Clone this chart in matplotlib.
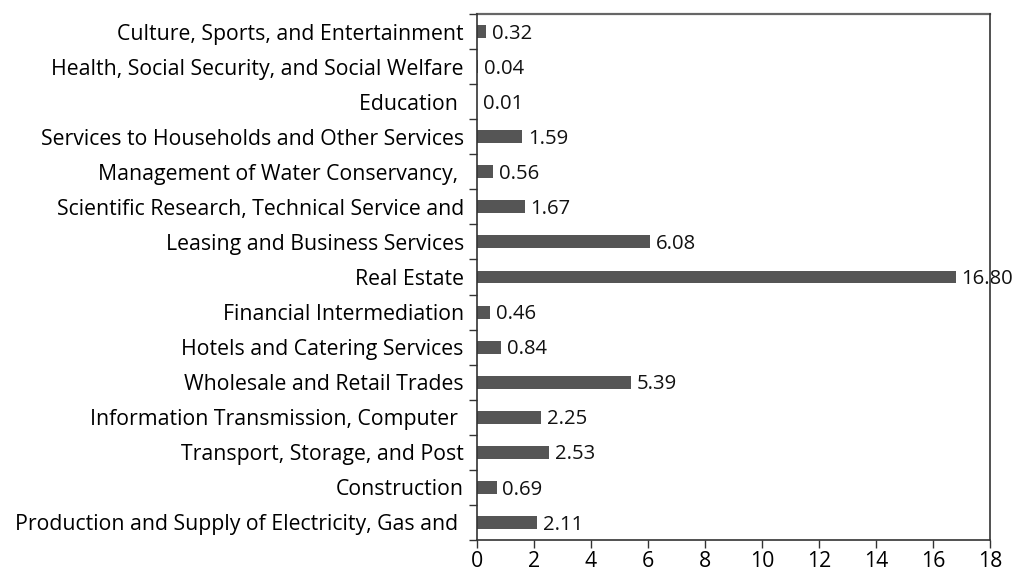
import matplotlib
matplotlib.use("Agg")
from matplotlib import pyplot as plt
import numpy as np

matplotlib.rcParams.update({
    'font.family': ['Open Sans', 'DejaVu Sans'],
    'font.size': 15.3,
})

categories = [
    'Production and Supply of Electricity, Gas and ',
    'Construction',
    'Transport, Storage, and Post',
    'Information Transmission, Computer ',
    'Wholesale and Retail Trades',
    'Hotels and Catering Services',
    'Financial Intermediation',
    'Real Estate',
    'Leasing and Business Services',
    'Scientific Research, Technical Service and',
    'Management of Water Conservancy, ',
    'Services to Households and Other Services',
    'Education ',
    'Health, Social Security, and Social Welfare',
    'Culture, Sports, and Entertainment',
]
values = [2.11, 0.69, 2.53, 2.25, 5.39, 0.84, 0.46, 16.80, 6.08, 1.67, 0.56, 1.59, 0.01, 0.04, 0.32]
xticks = list(range(0, 19, 2))

bar_color = '#555555'

fig = plt.figure(figsize=(10.14, 5.73), dpi=100)
ax = fig.add_axes([477 / 1014, 1 - 540 / 573, 513 / 1014, 526 / 573])

y = np.arange(len(categories))
ax.barh(y, values, height=0.37, color=bar_color, zorder=2)

for yi, v in zip(y, values):
    ax.text(v + 0.2, yi - 0.06, '%.2f' % v, ha='left', va='center', fontsize=14.6, color='#111111',
            zorder=1, clip_on=False)

ax.set_xlim(0, 18)
ax.set_ylim(-0.5, len(categories) - 0.5)
ax.set_xticks(xticks)
ax.set_xticklabels([str(t) for t in xticks])
ax.set_yticks(y)
ax.set_yticklabels(categories)
ax.set_yticks(np.arange(-0.5, len(categories), 1.0), minor=True)

ax.tick_params(axis='y', which='major', length=0, pad=9.5)
ax.tick_params(axis='y', which='minor', length=6, width=1, color='#333333', direction='out')
ax.tick_params(axis='x', which='major', length=5.5, width=1, color='#333333', direction='out', pad=2.5)

for side in ['left', 'right', 'bottom']:
    ax.spines[side].set_color('#333333')
    ax.spines[side].set_linewidth(1.2)
    ax.spines[side].set_zorder(3)
ax.spines['top'].set_color('#666666')
ax.spines['top'].set_linewidth(1.6)

fig.savefig('out.png', dpi=100)
